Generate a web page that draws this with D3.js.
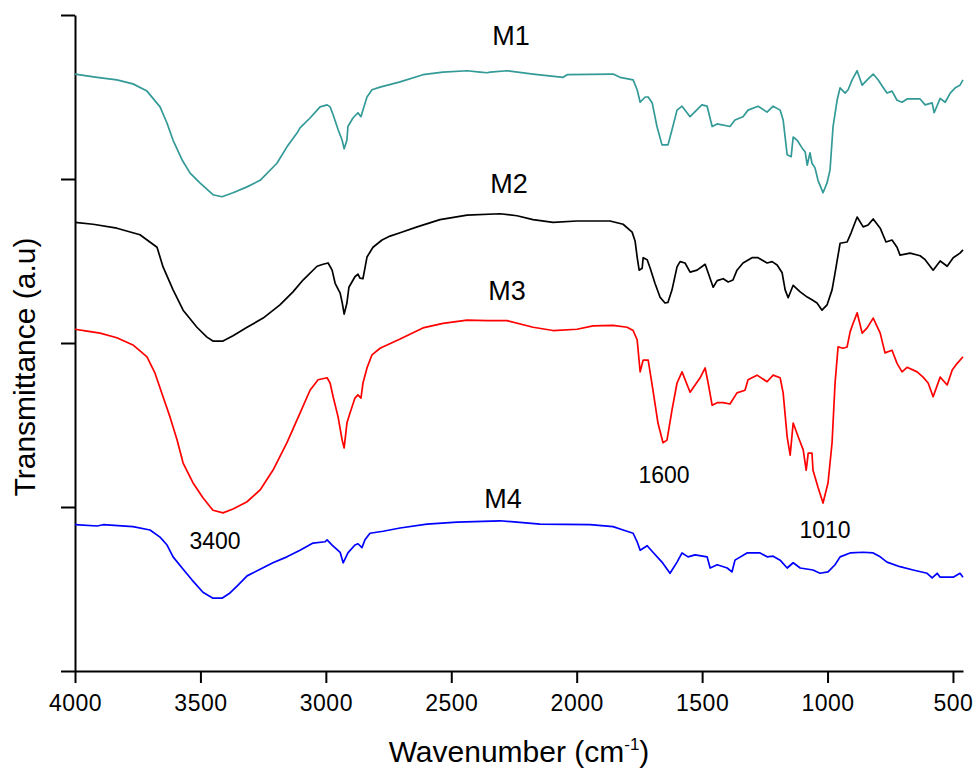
<!DOCTYPE html>
<html><head><meta charset="utf-8">
<script src="https://cdn.jsdelivr.net/npm/d3@7"></script>
<style>body{margin:0;background:#fff}svg{display:block}text{font-family:"Liberation Sans",Arial,sans-serif}</style>
</head><body><svg id="c" width="976" height="769"></svg>
<script>
// Wavenumber (cm-1), transmittance (arbitrary units, offset stacked)
const m1 = [[4000,91.0],[3912,90.5],[3833,90.1],[3769,89.5],[3713,88.4],[3661,86.0],[3633,83.5],[3609,80.9],[3573,77.9],[3541,75.9],[3502,74.4],[3450,72.6],[3414,72.3],[3370,72.9],[3314,73.8],[3262,74.8],[3195,77.4],[3155,79.9],[3115,82.0],[3103,82.8],[3063,84.3],[3023,86.0],[2995,86.3],[2983,86.0],[2971,84.8],[2951,82.5],[2935,80.9],[2927,79.6],[2916,80.9],[2912,83.0],[2892,84.3],[2872,85.1],[2860,84.5],[2852,85.5],[2836,87.5],[2816,88.6],[2784,89.0],[2704,89.8],[2613,90.9],[2533,91.3],[2437,91.5],[2385,91.3],[2357,91.2],[2345,91.3],[2278,91.5],[2174,91.0],[2054,90.5],[2038,90.9],[1855,91.0],[1827,90.5],[1775,90.1],[1759,88.6],[1747,86.7],[1727,87.5],[1715,87.5],[1699,86.6],[1680,83.0],[1660,80.2],[1636,80.2],[1620,82.5],[1600,85.5],[1580,86.1],[1548,84.5],[1501,86.3],[1480,86.1],[1460,83.0],[1440,83.4],[1389,83.0],[1369,84.0],[1337,84.5],[1317,85.5],[1277,86.1],[1241,85.2],[1217,86.1],[1189,85.5],[1177,84.0],[1161,78.7],[1145,78.4],[1137,81.4],[1121,80.9],[1101,79.7],[1089,79.1],[1081,77.1],[1070,79.0],[1062,77.4],[1050,76.7],[1038,74.8],[1018,72.9],[1002,74.4],[990,76.4],[978,83.0],[962,87.0],[950,88.9],[930,88.1],[918,88.6],[902,90.1],[882,91.5],[862,89.3],[842,90.1],[818,91.0],[798,90.1],[779,89.0],[763,88.1],[743,88.4],[723,87.0],[703,86.7],[683,87.2],[631,87.2],[611,86.3],[583,86.6],[575,85.1],[551,87.3],[531,86.7],[511,88.1],[491,88.9],[472,89.3],[460,90.1]];
const m2 = [[4000,68.4],[3928,68.1],[3833,67.5],[3741,66.5],[3673,64.6],[3649,61.6],[3609,58.1],[3569,55.0],[3514,52.4],[3474,50.9],[3450,50.3],[3410,50.3],[3370,51.1],[3314,52.4],[3250,53.8],[3183,55.8],[3131,57.8],[3091,59.6],[3035,61.7],[3011,62.0],[2991,62.2],[2975,61.1],[2963,59.1],[2943,57.6],[2935,56.2],[2927,54.4],[2916,56.1],[2908,58.5],[2884,60.1],[2872,60.5],[2864,59.9],[2852,59.8],[2836,63.1],[2812,64.6],[2776,65.7],[2744,66.3],[2704,66.8],[2636,67.7],[2545,68.8],[2437,69.5],[2306,69.7],[2238,69.4],[2174,68.8],[2094,68.4],[1999,68.6],[1867,68.6],[1815,68.1],[1779,66.9],[1767,65.5],[1759,63.1],[1751,61.1],[1739,61.4],[1735,63.0],[1719,62.7],[1707,61.4],[1688,59.1],[1668,57.0],[1648,56.1],[1636,56.2],[1620,58.1],[1600,61.6],[1588,62.4],[1568,62.2],[1548,60.8],[1520,61.1],[1488,62.0],[1476,60.7],[1456,58.5],[1440,59.5],[1416,59.8],[1396,59.3],[1377,59.6],[1361,61.1],[1337,62.2],[1301,63.0],[1277,63.0],[1241,62.2],[1221,62.4],[1201,61.9],[1181,60.7],[1169,58.1],[1157,56.9],[1137,58.8],[1109,57.8],[1081,57.0],[1062,56.6],[1042,56.1],[1022,55.0],[1002,55.8],[982,58.1],[970,60.7],[950,65.2],[922,65.4],[906,66.8],[882,69.2],[858,67.7],[838,68.0],[818,68.9],[790,67.5],[767,65.4],[743,65.7],[723,64.6],[711,63.4],[671,63.7],[631,63.3],[611,62.7],[579,61.1],[551,62.5],[523,61.7],[499,63.0],[472,63.7],[460,64.2]];
const m3 = [[4000,52.1],[3952,51.8],[3900,51.5],[3833,50.8],[3769,49.7],[3713,47.9],[3681,45.4],[3649,41.8],[3621,38.7],[3593,35.2],[3569,31.7],[3530,28.7],[3490,26.4],[3450,24.5],[3410,24.1],[3370,24.7],[3314,25.8],[3262,27.6],[3211,30.6],[3155,34.8],[3103,39.3],[3063,42.8],[3031,44.4],[2995,44.7],[2983,43.9],[2971,41.8],[2951,38.7],[2935,35.2],[2927,34.0],[2916,37.8],[2904,39.3],[2884,41.6],[2872,42.1],[2860,41.6],[2852,43.9],[2836,46.2],[2816,48.2],[2784,49.2],[2704,50.6],[2613,52.3],[2533,53.0],[2437,53.5],[2357,53.4],[2278,53.4],[2174,52.4],[2094,51.9],[1999,52.1],[1935,52.6],[1855,52.7],[1799,52.4],[1775,51.9],[1759,50.5],[1747,45.6],[1735,47.4],[1715,47.4],[1696,42.8],[1676,37.8],[1656,34.8],[1640,35.2],[1620,39.8],[1600,43.9],[1580,45.6],[1548,42.5],[1508,44.7],[1488,46.2],[1476,43.9],[1460,40.5],[1440,40.9],[1416,40.9],[1389,40.7],[1361,42.4],[1329,42.8],[1317,44.4],[1281,45.1],[1241,44.1],[1217,45.1],[1189,44.7],[1177,42.4],[1161,35.7],[1149,32.9],[1137,37.8],[1117,35.7],[1097,33.7],[1085,30.6],[1077,33.2],[1062,33.2],[1058,30.6],[1038,28.0],[1018,25.6],[998,28.7],[982,34.8],[970,43.9],[958,49.4],[938,49.2],[922,49.4],[910,51.7],[898,53.0],[882,54.6],[862,51.5],[842,52.3],[818,53.8],[790,51.5],[771,48.5],[743,48.9],[723,46.9],[703,45.6],[683,46.3],[643,45.6],[619,44.8],[599,43.9],[579,41.8],[551,44.8],[523,43.6],[503,45.9],[483,46.9],[460,47.9]];
const m4 = [[4000,22.3],[3912,22.1],[3888,22.3],[3769,22.0],[3701,21.5],[3661,20.4],[3633,19.2],[3609,17.4],[3573,15.7],[3534,13.9],[3490,12.0],[3450,11.1],[3414,11.1],[3382,11.9],[3350,13.1],[3314,14.5],[3262,15.5],[3211,16.5],[3155,17.4],[3103,18.4],[3051,19.5],[3003,19.7],[2995,20.0],[2975,19.2],[2943,18.1],[2931,16.5],[2912,18.0],[2884,19.2],[2872,19.4],[2856,18.8],[2844,20.0],[2824,21.0],[2772,21.3],[2704,21.8],[2597,22.4],[2477,22.7],[2306,22.9],[2238,22.7],[2146,22.4],[1947,22.3],[1855,22.0],[1815,21.5],[1775,21.0],[1759,19.7],[1747,18.4],[1719,19.1],[1696,18.1],[1660,16.6],[1628,14.9],[1600,16.6],[1580,18.0],[1556,17.4],[1528,17.7],[1480,17.4],[1468,15.7],[1440,16.2],[1400,15.7],[1381,15.1],[1369,16.9],[1321,18.0],[1269,18.0],[1241,17.4],[1217,17.5],[1189,16.9],[1161,15.7],[1137,16.5],[1109,15.7],[1058,15.4],[1030,14.9],[998,15.1],[970,16.2],[950,17.4],[910,18.0],[858,18.1],[818,18.0],[790,17.4],[763,16.6],[711,15.9],[659,15.4],[603,14.9],[583,14.2],[563,14.9],[551,14.3],[499,14.3],[472,14.9],[460,14.3]];

const seriesNames = ["M1","M2","M3","M4"];
const seriesColors = ["#339a97","#000000","#ff0000","#0000ff"];
const seriesLabelPos = [[2262,95.4],[2270,72.9],[2278,56.6],[2294,24.8]];
const peakLabels = ["3400","1600","1010"];
const peakLabelPos = [[3442,18.6],[1652,28.7],[1010,20.3]];
const xMajorTicks = [4000,3500,3000,2500,2000,1500,1000,500];
const xMinorTicks = [3750,3250,2750,2250,1750,1250,750];
const yMajorTicks = [0,25,50,75,100];
const yMinorTicks = [12.5,37.5,62.5,87.5];

const svg = d3.select("#c");
const x = d3.scaleLinear().domain([4000,460]).range([75,963]);
const y = d3.scaleLinear().domain([0,100]).range([671,15]);

// axes
const gx = svg.append("g").attr("transform","translate(0,671)");
gx.call(d3.axisBottom(x).tickValues(xMinorTicks).tickSize(6).tickSizeOuter(0).tickFormat(""));
gx.call(d3.axisBottom(x).tickValues(xMajorTicks).tickSize(12).tickSizeOuter(0).tickFormat(d3.format("d")));
gx.selectAll("path.domain").attr("stroke","#000").attr("stroke-width",2);
gx.selectAll("line").attr("stroke","#000").attr("stroke-width",2);
gx.selectAll("text").attr("y",40).attr("dy",0).attr("font-size",23).attr("fill","#000")
  .attr("font-family","'Liberation Sans',Arial,sans-serif").attr("letter-spacing",0.5);

const gy = svg.append("g").attr("transform","translate(75,0)");
gy.call(d3.axisLeft(y).tickValues(yMinorTicks).tickSize(7).tickSizeOuter(0).tickFormat(""));
gy.call(d3.axisLeft(y).tickValues(yMajorTicks).tickSize(14).tickSizeOuter(0).tickFormat(""));
gy.selectAll("path.domain").attr("stroke","#000").attr("stroke-width",2);
gy.selectAll("line").attr("stroke","#000").attr("stroke-width",2);

// lines
const line = d3.line().x(d=>x(d[0])).y(d=>y(d[1]));
[m1,m2,m3,m4].forEach((s,i)=>{
  svg.append("path").datum(s).attr("d",line).attr("fill","none")
    .attr("stroke",seriesColors[i]).attr("stroke-width",1.7).attr("stroke-linejoin","round");
});

// labels
seriesNames.forEach((n,i)=>{
  svg.append("text").attr("x",x(seriesLabelPos[i][0])).attr("y",y(seriesLabelPos[i][1]))
    .attr("text-anchor","middle").attr("font-size",27).attr("fill","#000").text(n);
});
peakLabels.forEach((n,i)=>{
  svg.append("text").attr("x",x(peakLabelPos[i][0])).attr("y",y(peakLabelPos[i][1]))
    .attr("text-anchor","middle").attr("font-size",23).attr("fill","#000").text(n);
});

// axis titles
const xt = svg.append("text").attr("x",519).attr("y",762).attr("text-anchor","middle")
  .attr("font-size",30).attr("fill","#000");
xt.append("tspan").text("Wavenumber (cm");
xt.append("tspan").attr("font-size",17).attr("dy",-12).text("-1");
xt.append("tspan").attr("dy",12).text(")");

svg.append("text").attr("transform","translate(35,367) rotate(-90)")
  .attr("text-anchor","middle").attr("font-size",30).attr("fill","#000").text("Transmittance (a.u)");
</script></body></html>
